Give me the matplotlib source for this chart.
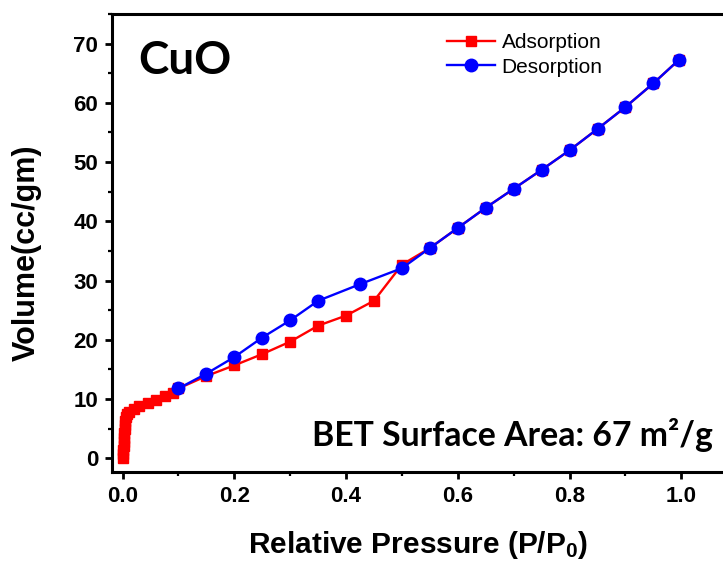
import numpy as np
import matplotlib
matplotlib.use('Agg')
import matplotlib.pyplot as plt
from matplotlib.ticker import MultipleLocator

plt.rcParams['font.family'] = ['Liberation Sans', 'DejaVu Sans']
plt.rcParams['mathtext.fontset'] = 'custom'
plt.rcParams['mathtext.rm'] = 'Liberation Sans:bold'
plt.rcParams['mathtext.it'] = 'Liberation Sans:bold'
plt.rcParams['mathtext.bf'] = 'Liberation Sans:bold'

# Adsorption branch (relative pressure, volume cc/gm)
ads_x = [0.001, 0.0012, 0.0015, 0.0018, 0.002, 0.0025, 0.003, 0.0035, 0.004,
         0.005, 0.006, 0.008, 0.012, 0.02, 0.03, 0.045, 0.06, 0.075, 0.09,
         0.1, 0.15, 0.2, 0.25, 0.3, 0.35, 0.4, 0.45, 0.5, 0.55, 0.6, 0.65,
         0.7, 0.75, 0.8, 0.85, 0.9, 0.95, 0.995]
ads_y = [0.0, 0.7, 1.4, 2.1, 2.8, 3.5, 4.2, 4.9, 5.6,
         6.3, 7.0, 7.5, 7.9, 8.3, 8.8, 9.3, 9.9, 10.5, 11.1,
         11.8, 13.9, 15.7, 17.6, 19.7, 22.4, 24.1, 26.6, 32.7, 35.5, 38.9, 42.3,
         45.5, 48.7, 52.0, 55.6, 59.3, 63.3, 67.2]

# Desorption branch
des_x = [0.1, 0.15, 0.2, 0.25, 0.3, 0.35, 0.425, 0.5, 0.55, 0.6, 0.65,
         0.7, 0.75, 0.8, 0.85, 0.9, 0.95, 0.995]
des_y = [11.8, 14.3, 17.1, 20.4, 23.3, 26.6, 29.4, 32.1, 35.5, 38.9, 42.3,
         45.5, 48.7, 52.0, 55.6, 59.3, 63.3, 67.2]

fig = plt.figure(figsize=(7.23, 5.62), dpi=100)
ax = fig.add_axes([112/723, 1-472/562, 614/723, 458/562])

ax.plot(ads_x, ads_y, color='red', marker='s', markersize=7, lw=1.7,
        label='Adsorption')
ax.plot(des_x, des_y, color='blue', marker='o', markersize=9, lw=1.7,
        label='Desorption')

ax.set_xlim(-0.019, 1.08)
ax.set_ylim(-2.3, 75)
ax.xaxis.set_major_locator(MultipleLocator(0.2))
ax.xaxis.set_minor_locator(MultipleLocator(0.1))
ax.yaxis.set_major_locator(MultipleLocator(10))
ax.yaxis.set_minor_locator(MultipleLocator(5))

for s in ax.spines.values():
    s.set_linewidth(2.2)
ax.spines['right'].set_visible(False)
ax.tick_params(which='major', direction='out', length=5, width=2,
               labelsize=16, pad=5)
ax.tick_params(which='minor', direction='out', length=3, width=1.6)
for lab in ax.get_xticklabels() + ax.get_yticklabels():
    lab.set_fontweight('bold')

fig.text(27/723, 1-253/562, 'Volume(cc/gm)', rotation=90, fontsize=22,
         fontweight='bold', ha='center', va='center')
fig.text(418/723, 1-545/562, r'Relative Pressure (P/P$_{0}$)', fontsize=21.5,
         fontweight='bold', ha='center', va='center')

fig.text(138/723, 1-61/562, 'CuO', fontsize=33, fontweight='bold',
         family='Lato', ha='left', va='center')
fig.text(713/723, 1-435/562, 'BET Surface Area: 67 m²/g', fontsize=24.3,
         fontweight='bold', family='Lato', ha='right', va='center')

ax.legend(loc='center', bbox_to_anchor=(525/723, 1-55/562),
          bbox_transform=fig.transFigure, frameon=False, fontsize=15,
          handlelength=2.3, labelspacing=0.25, handletextpad=0.3)

fig.savefig('out.png', dpi=100)
